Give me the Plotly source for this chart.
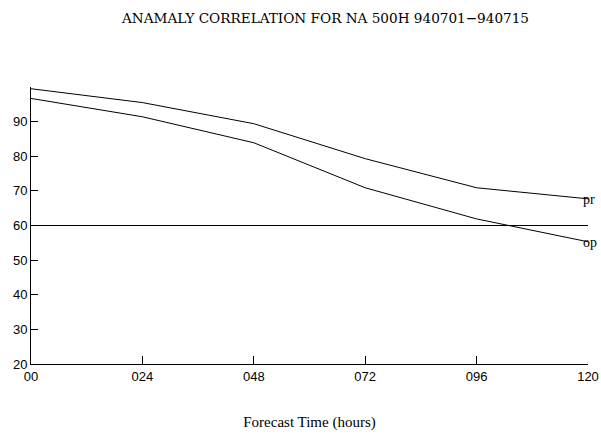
import plotly.graph_objects as go

hours = [0, 24, 48, 72, 96, 120]
tick_labels = ["00", "024", "048", "072", "096", "120"]
pr = [99.5, 95.5, 89.4, 79.3, 70.9, 67.7]
op = [96.7, 91.4, 83.9, 70.9, 61.9, 55.3]
ref_hours = [0, 120]
ref_level = [60, 60]
y_ticks = [20, 30, 40, 50, 60, 70, 80, 90, 100]
y_labels = ["20", "30", "40", "50", "60", "70", "80", "90", ""]

fig = go.Figure()
line = dict(color="black", width=1)
fig.add_trace(go.Scatter(x=hours, y=pr, mode="lines", line=line, name="pr", cliponaxis=False))
fig.add_trace(go.Scatter(x=hours, y=op, mode="lines", line=line, name="op", cliponaxis=False))
fig.add_trace(go.Scatter(x=ref_hours, y=ref_level, mode="lines", line=line, name="60"))

for name, vals in (("pr", pr), ("op", op)):
    fig.add_annotation(x=hours[-1], y=vals[-1], text=name, showarrow=False,
                       xanchor="left", yanchor="middle", xshift=-7, yshift=-1,
                       font=dict(family="Liberation Serif", size=14, color="black"))

fig.add_annotation(xref="paper", yref="paper", x=0.527, y=1.0, yshift=69,
                   text="ANAMALY CORRELATION FOR NA 500H 940701\u2212940715",
                   showarrow=False, xanchor="center", yanchor="middle",
                   font=dict(family="DejaVu Serif", size=13.6, color="black"))

fig.update_layout(
    width=601, height=436,
    margin=dict(l=31, r=13, t=87, b=72),
    paper_bgcolor="white", plot_bgcolor="white",
    showlegend=False,
    xaxis=dict(range=[0, 120], tickvals=hours, ticktext=tick_labels, automargin=False,
               showgrid=False, zeroline=False, showline=True, linecolor="black",
               linewidth=1, ticks="inside", ticklen=8, tickcolor="black",
               tickfont=dict(family="Liberation Sans", size=13, color="black"),
               title=dict(text="Forecast Time (hours)", standoff=33,
                          font=dict(family="Liberation Serif", size=15, color="black"))),
    yaxis=dict(range=[20, 100], tickvals=y_ticks, ticktext=y_labels, automargin=False,
               showgrid=False, zeroline=False, showline=True, linecolor="black",
               linewidth=1, ticks="inside", ticklen=7, tickcolor="black",
               tickfont=dict(family="Liberation Sans", size=13, color="black")),
)

fig.write_html("out.html", config={"displayModeBar": False},
               post_script="document.body.style.margin='0';")
